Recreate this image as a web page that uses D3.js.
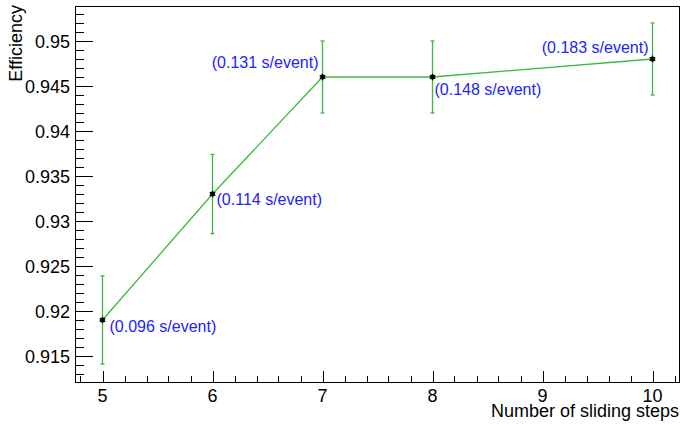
<!DOCTYPE html>
<html>
<head>
<meta charset="utf-8">
<script src="https://cdn.jsdelivr.net/npm/d3@7"></script>
<style>
  body { margin: 0; background: #fff; }
  text { font-family: "Liberation Sans", Arial, Helvetica, sans-serif; }
</style>
</head>
<body>
<div id="chart"></div>
<script>
// number of sliding steps
var steps = [5, 6, 7, 8, 10];
// efficiency and its error
var eff = [0.919, 0.933, 0.946, 0.946, 0.948];
var effErr = [0.0049, 0.0044, 0.004, 0.004, 0.004];
// timing labels shown next to each point
var timeLabels = ["(0.096 s/event)", "(0.114 s/event)", "(0.131 s/event)", "(0.148 s/event)", "(0.183 s/event)"];
var xTicks = [5, 6, 7, 8, 9, 10];
var yTicks = [0.915, 0.92, 0.925, 0.93, 0.935, 0.94, 0.945, 0.95];

var w = 681, h = 425;
var frameL = 75, frameR = 680, frameT = 6, frameB = 382;
var green = "#3cb83c";

var svg = d3.select("#chart").append("svg")
    .attr("width", w)
    .attr("height", h);

var x = d3.scaleLinear().domain([4.75, 10.25]).range([frameL, frameR]);
var y = d3.scaleLinear().domain([0.91211, 0.95389]).range([frameB, frameT]);

//minor ticks
var xMinor = d3.range(4.8, 10.25, 0.2).filter(function(v) {
    return Math.abs(v - Math.round(v)) > 1e-6;
});
var yMinor = d3.range(0.913, 0.9539, 0.001).filter(function(v) {
    return Math.abs(v * 200 - Math.round(v * 200)) > 1e-6;
});

var ticks = svg.append("g").attr("stroke", "#000").attr("stroke-width", 1);

ticks.selectAll(".xmaj").data(xTicks).enter().append("line")
    .attr("x1", function(d) { return Math.round(x(d)) + 0.5; })
    .attr("x2", function(d) { return Math.round(x(d)) + 0.5; })
    .attr("y1", frameB).attr("y2", frameB - 11);
ticks.selectAll(".xmin").data(xMinor).enter().append("line")
    .attr("x1", function(d) { return Math.round(x(d)) + 0.5; })
    .attr("x2", function(d) { return Math.round(x(d)) + 0.5; })
    .attr("y1", frameB).attr("y2", frameB - 6);
ticks.selectAll(".ymaj").data(yTicks).enter().append("line")
    .attr("x1", frameL).attr("x2", frameL + 18)
    .attr("y1", function(d) { return Math.round(y(d)) + 0.5; })
    .attr("y2", function(d) { return Math.round(y(d)) + 0.5; });
ticks.selectAll(".ymin").data(yMinor).enter().append("line")
    .attr("x1", frameL).attr("x2", frameL + 9)
    .attr("y1", function(d) { return Math.round(y(d)) + 0.5; })
    .attr("y2", function(d) { return Math.round(y(d)) + 0.5; });

// tick labels
svg.selectAll(".xlab").data(xTicks).enter().append("text")
    .attr("x", function(d) { return x(d); })
    .attr("y", 402)
    .attr("text-anchor", "middle")
    .attr("font-size", 18)
    .text(function(d) { return d; });
svg.selectAll(".ylab").data(yTicks).enter().append("text")
    .attr("x", 70)
    .attr("y", function(d) { return y(d) + 7; })
    .attr("text-anchor", "end")
    .attr("font-size", 18)
    .text(function(d) { return +d.toFixed(3); });

// axis titles
svg.append("text")
    .attr("x", 679).attr("y", 417)
    .attr("text-anchor", "end")
    .attr("font-size", 18)
    .text("Number of sliding steps");
svg.append("text")
    .attr("transform", "translate(22,5) rotate(-90)")
    .attr("text-anchor", "end")
    .attr("font-size", 18)
    .text("Efficiency");

var pts = steps.map(function(s, i) {
    return { x: s, y: eff[i], e: effErr[i], label: timeLabels[i] };
});

// error bars
var eb = svg.append("g").attr("stroke", green).attr("stroke-width", 1.3);
eb.selectAll(".err").data(pts).enter().append("line")
    .attr("x1", function(d) { return x(d.x); })
    .attr("x2", function(d) { return x(d.x); })
    .attr("y1", function(d) { return y(d.y - d.e); })
    .attr("y2", function(d) { return y(d.y + d.e); });
eb.selectAll(".capT").data(pts).enter().append("line")
    .attr("x1", function(d) { return x(d.x) - 2; })
    .attr("x2", function(d) { return x(d.x) + 2; })
    .attr("y1", function(d) { return y(d.y + d.e); })
    .attr("y2", function(d) { return y(d.y + d.e); });
eb.selectAll(".capB").data(pts).enter().append("line")
    .attr("x1", function(d) { return x(d.x) - 2; })
    .attr("x2", function(d) { return x(d.x) + 2; })
    .attr("y1", function(d) { return y(d.y - d.e); })
    .attr("y2", function(d) { return y(d.y - d.e); });

// connecting line
svg.append("path")
    .datum(pts)
    .attr("fill", "none")
    .attr("stroke", green)
    .attr("stroke-width", 1.3)
    .attr("d", d3.line()
        .x(function(d) { return x(d.x); })
        .y(function(d) { return y(d.y); }));

// markers
svg.selectAll(".mk").data(pts).enter().append("path")
    .attr("transform", function(d) { return "translate(" + x(d.x) + "," + y(d.y) + ")"; })
    .attr("d", d3.symbol(d3.symbolAsterisk).size(28))
    .attr("stroke", "#000")
    .attr("stroke-width", 1.6)
    .attr("fill", "none");
svg.selectAll(".mkc").data(pts).enter().append("rect")
    .attr("x", function(d) { return x(d.x) - 2; })
    .attr("y", function(d) { return y(d.y) - 2; })
    .attr("width", 4).attr("height", 4)
    .attr("fill", "#000");

// label placement next to each point (pixel offsets, anchor)
var labelOff = [[7, 12, "start"], [4, 11, "start"], [-4, -9, "end"], [2, 18, "start"], [-4, -6, "end"]];
svg.selectAll(".tl").data(pts).enter().append("text")
    .attr("x", function(d, i) { return x(d.x) + labelOff[i][0]; })
    .attr("y", function(d, i) { return y(d.y) + labelOff[i][1]; })
    .attr("text-anchor", function(d, i) { return labelOff[i][2]; })
    .attr("font-size", 16)
    .attr("fill", "#2222ff")
    .text(function(d) { return d.label; });

// frame
svg.append("rect")
    .attr("x", frameL + 0.5).attr("y", frameT + 0.5)
    .attr("width", frameR - frameL - 1).attr("height", frameB - frameT)
    .attr("fill", "none")
    .attr("stroke", "#000")
    .attr("stroke-width", 1);
</script>
</body>
</html>
